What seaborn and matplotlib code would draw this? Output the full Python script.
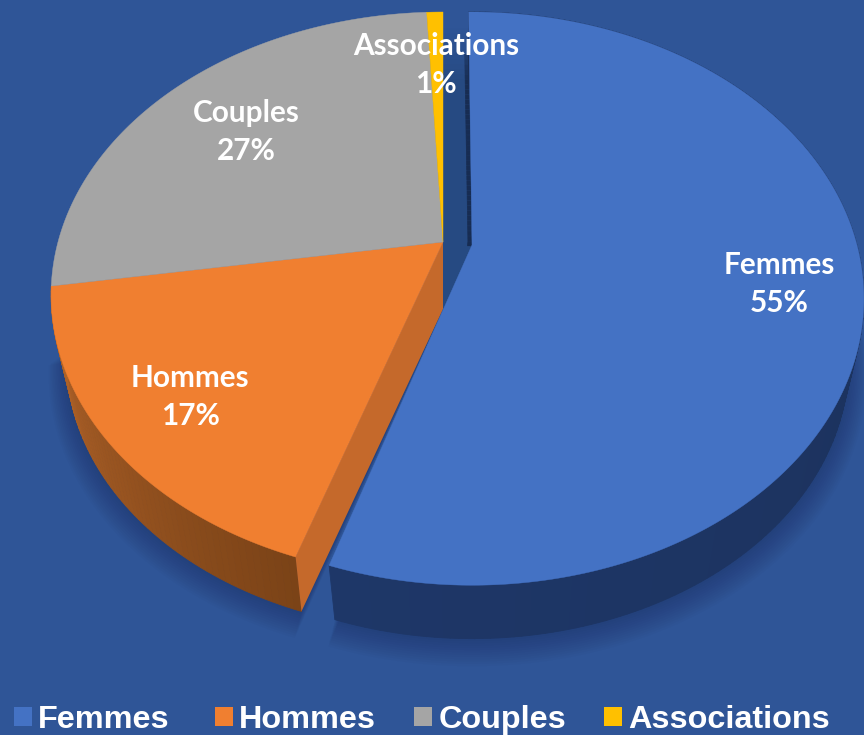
import numpy as np
import matplotlib
matplotlib.use("Agg")
import matplotlib.pyplot as plt
from matplotlib.colors import to_rgb
from matplotlib.patches import Patch, Polygon
import seaborn as sns

categories = ["Femmes", "Hommes", "Couples", "Associations"]
values = [55.1, 17.4, 26.7, 0.8]
slice_colors = ["#4472C4", "#F07F30", "#A5A5A5", "#FFC000"]

BG = "#2F5597"
# perspective of the disc, in pixels of the 864x735 picture
SCALE_X, TILT = 385.0, 0.187
SCALE_Y_MAIN, SCALE_Y_FEMMES = 273.0, 276.6
DEPTH, BOTTOM_SCALE = 67.0, 0.96
MAIN_CENTER = (443.0, 242.0)
FEMMES_CENTER = (472.0, 245.0)
FEMMES_TURN = -0.6
label_pos = [(779, 284), (190, 397), (246, 132), (436, 65)]
legend_x = [14, 215, 414, 604]

sns.set_theme(style="white")
plt.rcParams["font.family"] = ["Lato", "DejaVu Sans"]
palette = sns.color_palette(slice_colors)


def rim(center, deg, bottom=False):
    t = np.radians(deg)
    u, v = np.sin(t), np.cos(t)
    k = BOTTOM_SCALE if bottom else 1.0
    sy = SCALE_Y_FEMMES if center == FEMMES_CENTER else SCALE_Y_MAIN
    x = center[0] + k * SCALE_X * u / (1 + TILT * v)
    y = center[1] - k * sy * v / (1 + TILT * v)
    if bottom:
        y = y + DEPTH
    return np.column_stack([x, y])


def bottom_center(center):
    return (center[0], center[1] + DEPTH)


def mix(c1, c2, t):
    a, b = np.array(to_rgb(c1)), np.array(to_rgb(c2))
    return tuple(a + (b - a) * t)


def wall(ax, center, a0, a1, c_start, c_end, z):
    steps = np.linspace(a0, a1, max(int(abs(a1 - a0)), 2) + 1)
    for i in range(len(steps) - 1):
        top = rim(center, np.array([steps[i], steps[i + 1]]))
        low = rim(center, np.array([steps[i + 1], steps[i]]), bottom=True)
        col = mix(c_start, c_end, i / (len(steps) - 2) if len(steps) > 2 else 0)
        ax.add_patch(Polygon(np.vstack([top, low]), closed=True, fc=col, ec=col, lw=0.6, zorder=z))


def shadow(ax, center, a0, a1):
    # soft dark halo round the lower rim
    angles = np.linspace(a0, a1, 120)
    for k in range(1, 13):
        pts = rim(center, angles, bottom=True)
        c = np.array(bottom_center(center))
        pts = c + (pts - c) * (1 + 0.004 * k)
        pts[:, 1] += k * 1.0
        ax.add_patch(Polygon(np.vstack([pts, [c]]), closed=True, fc="#12264f", ec="none", alpha=0.03, zorder=1))


fig = plt.figure(figsize=(8.64, 7.35), dpi=100, facecolor=BG)
ax = fig.add_axes([0, 0, 1, 1])
ax.set_xlim(0, 864)
ax.set_ylim(735, 0)
ax.axis("off")

edges = np.concatenate([[0], np.cumsum(values)]) * 360.0 / sum(values)
femmes_a0, femmes_a1 = edges[0] + FEMMES_TURN, edges[1] + FEMMES_TURN

shadow(ax, FEMMES_CENTER, 70, femmes_a1)
shadow(ax, MAIN_CENTER, edges[1], edges[2])

# back face of the Femmes slice, seen through the gap
n_back = 60
ys = np.linspace(14, 312, n_back)
for i in range(n_back - 1):
    t = min(max((ys[i] - 25) / 55.0, 0), 1)
    col = mix(BG, "#264A82", t)
    x_r = np.interp(ys[i], [12, 245, 312], [468, 472, 443])
    x_r2 = np.interp(ys[i + 1], [12, 245, 312], [468, 472, 443])
    ax.add_patch(Polygon([(443, ys[i]), (x_r, ys[i]), (x_r2, ys[i + 1]), (443, ys[i + 1])],
                         closed=True, fc=col, ec=col, lw=0.5, zorder=2))
    # darker line next to the blue face
    if ys[i] > 50 and ys[i] < 245:
        dark = mix(col, "#172C52", t)
        ax.add_patch(Polygon([(x_r - 4, ys[i]), (x_r, ys[i]), (x_r2, ys[i + 1]), (x_r2 - 4, ys[i + 1])],
                             closed=True, fc=dark, ec=dark, lw=0.5, zorder=2))

# outer walls
wall(ax, FEMMES_CENTER, femmes_a0, femmes_a1, "#1A2D52", "#1E3768", 3)
wall(ax, MAIN_CENTER, edges[1], edges[2], "#7B4317", "#B5652A", 3)

# cut face of the Hommes slice
cut = rim(MAIN_CENTER, edges[1])[0]
cut_low = rim(MAIN_CENTER, edges[1], bottom=True)[0]
ax.add_patch(Polygon([MAIN_CENTER, cut, cut_low, bottom_center(MAIN_CENTER)], closed=True,
                     fc="#C5692B", ec="none", zorder=4))

# top faces
for i, name in enumerate(categories):
    center = FEMMES_CENTER if i == 0 else MAIN_CENTER
    turn = FEMMES_TURN if i == 0 else 0
    angles = np.linspace(edges[i], edges[i + 1], max(int(edges[i + 1] - edges[i]), 2) * 2) + turn
    pts = np.vstack([[center], rim(center, angles)])
    ax.add_patch(Polygon(pts, closed=True, fc=palette[i], ec=palette[i], lw=0.3, zorder=5))

# data labels
for name, val, pos in zip(categories, values, label_pos):
    ax.text(pos[0], pos[1], f"{name}\n{round(val)}%", color="white", fontsize=21.4, fontweight="bold",
            ha="center", va="center", linespacing=1.46, zorder=6)

# one legend per entry, the gaps are not even in the original
for c, n, lx in zip(palette, categories, legend_x):
    fig.legend(handles=[Patch(fc=c, ec="none", label=n)], loc="lower left",
               bbox_to_anchor=(lx / 864, 0.0), frameon=False,
               prop={"family": "Liberation Sans", "weight": "bold", "size": 23.3},
               handlelength=0.56, handleheight=0.56, handletextpad=0.19,
               borderpad=0.0, borderaxespad=0.0, labelcolor="white")

fig.savefig("out.png", dpi=100, facecolor=BG)
